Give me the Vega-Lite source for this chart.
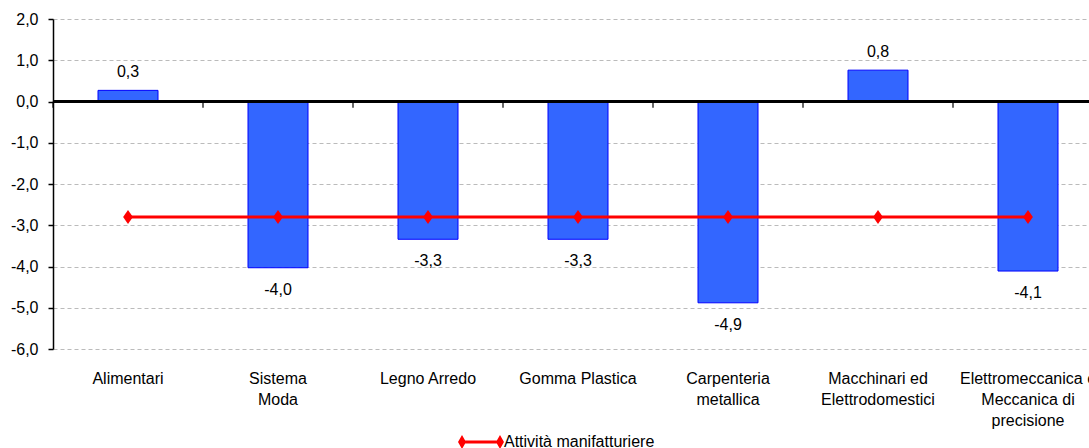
{
  "$schema": "https://vega.github.io/schema/vega-lite/v6.json",
  "autosize": "none",
  "width": 1036,
  "height": 330,
  "padding": {"left": 53, "top": 19, "right": 0, "bottom": 99},
  "background": "white",
  "config": {
    "locale": {"number": {"decimal": ",", "thousands": ".", "grouping": [3], "currency": ["", " €"], "minus": "-"}},
    "view": {"stroke": null},
    "font": "Liberation Sans",
    "text": {"font": "Liberation Sans"}
  },
  "data": {
    "values": [
      {"settore": "Alimentari", "valore": 0.27, "manif": -2.8},
      {"settore": "Sistema\nModa", "valore": -4.03, "manif": -2.8},
      {"settore": "Legno Arredo", "valore": -3.34, "manif": -2.8},
      {"settore": "Gomma Plastica", "valore": -3.34, "manif": -2.8},
      {"settore": "Carpenteria\nmetallica", "valore": -4.88, "manif": -2.8},
      {"settore": "Macchinari ed\nElettrodomestici", "valore": 0.76, "manif": -2.8},
      {"settore": "Elettromeccanica e\nMeccanica di\nprecisione", "valore": -4.11, "manif": -2.8}
    ]
  },
  "layer": [
    {
      "mark": {"type": "bar", "fill": "#3366FF", "stroke": "#0000FF", "strokeWidth": 1, "width": {"band": 0.4}},
      "encoding": {
        "x": {
          "field": "settore", "type": "nominal", "sort": null,
          "scale": {"range": [0, 1050], "paddingInner": 0, "paddingOuter": 0},
          "axis": {
            "orient": "bottom", "title": null, "domain": false, "ticks": false,
            "labelAngle": 0, "labelFontSize": 16, "labelColor": "#000000",
            "labelPadding": 21, "labelLineHeight": 21, "labelBaseline": "top",
            "labelExpr": "split(datum.label, '\\n')", "labelLimit": 0
          }
        },
        "y": {
          "field": "valore", "type": "quantitative",
          "scale": {"domain": [-6, 2], "nice": false, "zero": false},
          "axis": {
            "title": null, "values": [-6, -5, -4, -3, -2, -1, 0, 1, 2], "format": ".1f",
            "labelFontSize": 16, "labelColor": "#000000", "labelPadding": 10,
            "domainColor": "#000000", "domainWidth": 1.5,
            "tickColor": "#000000", "tickSize": 5, "tickWidth": 1.5,
            "gridColor": "#BBBBBB", "gridDash": [4, 3], "gridWidth": 1
          }
        }
      }
    },
    {
      "mark": {"type": "rule", "color": "#000000", "strokeWidth": 2},
      "encoding": {"y": {"datum": 0, "type": "quantitative"}}
    },
    {
      "mark": {"type": "tick", "orient": "vertical", "color": "#000000", "size": 6, "thickness": 1.2, "opacity": 1},
      "encoding": {
        "x": {"field": "settore", "type": "nominal", "sort": null, "bandPosition": 0},
        "y": {"datum": -0.08, "type": "quantitative"}
      }
    },
    {
      "mark": {"type": "line", "strokeWidth": 3},
      "encoding": {
        "x": {"field": "settore", "type": "nominal", "sort": null},
        "y": {"field": "manif", "type": "quantitative"},
        "color": {
          "datum": "Attività manifatturiere",
          "type": "nominal",
          "scale": {"domain": ["Attività manifatturiere"], "range": ["#FF0000"]},
          "legend": {
            "title": null, "orient": "none", "legendX": 409, "legendY": 404,
            "padding": 0, "symbolSize": 1444, "labelOffset": 4,
            "symbolType": "M-1,-0.08L1,-0.08L1,0.08L-1,0.08Z M-1.21,0L-1,-0.37L-0.79,0L-1,0.37Z M0.79,0L1,-0.37L1.21,0L1,0.37Z",
            "symbolFillColor": "#FF0000", "symbolStrokeColor": "#FF0000", "symbolStrokeWidth": 0,
            "labelFontSize": 16, "labelColor": "#000000"
          }
        }
      }
    },
    {
      "mark": {"type": "point", "shape": "M0,-1L0.7,0L0,1L-0.7,0Z", "filled": true, "fill": "#FF0000", "opacity": 1, "size": 196, "strokeWidth": 0},
      "encoding": {
        "x": {"field": "settore", "type": "nominal", "sort": null},
        "y": {"field": "manif", "type": "quantitative"}
      }
    },
    {
      "transform": [{"filter": "datum.valore >= 0"}],
      "mark": {"type": "text", "fontSize": 16, "color": "#000000", "baseline": "middle", "dy": -18},
      "encoding": {
        "x": {"field": "settore", "type": "nominal", "sort": null},
        "y": {"field": "valore", "type": "quantitative"},
        "text": {"field": "valore", "type": "quantitative", "format": ".1f"}
      }
    },
    {
      "transform": [{"filter": "datum.valore < 0"}],
      "mark": {"type": "text", "fontSize": 16, "color": "#000000", "baseline": "middle", "dy": 22},
      "encoding": {
        "x": {"field": "settore", "type": "nominal", "sort": null},
        "y": {"field": "valore", "type": "quantitative"},
        "text": {"field": "valore", "type": "quantitative", "format": ".1f"}
      }
    }
  ]
}
